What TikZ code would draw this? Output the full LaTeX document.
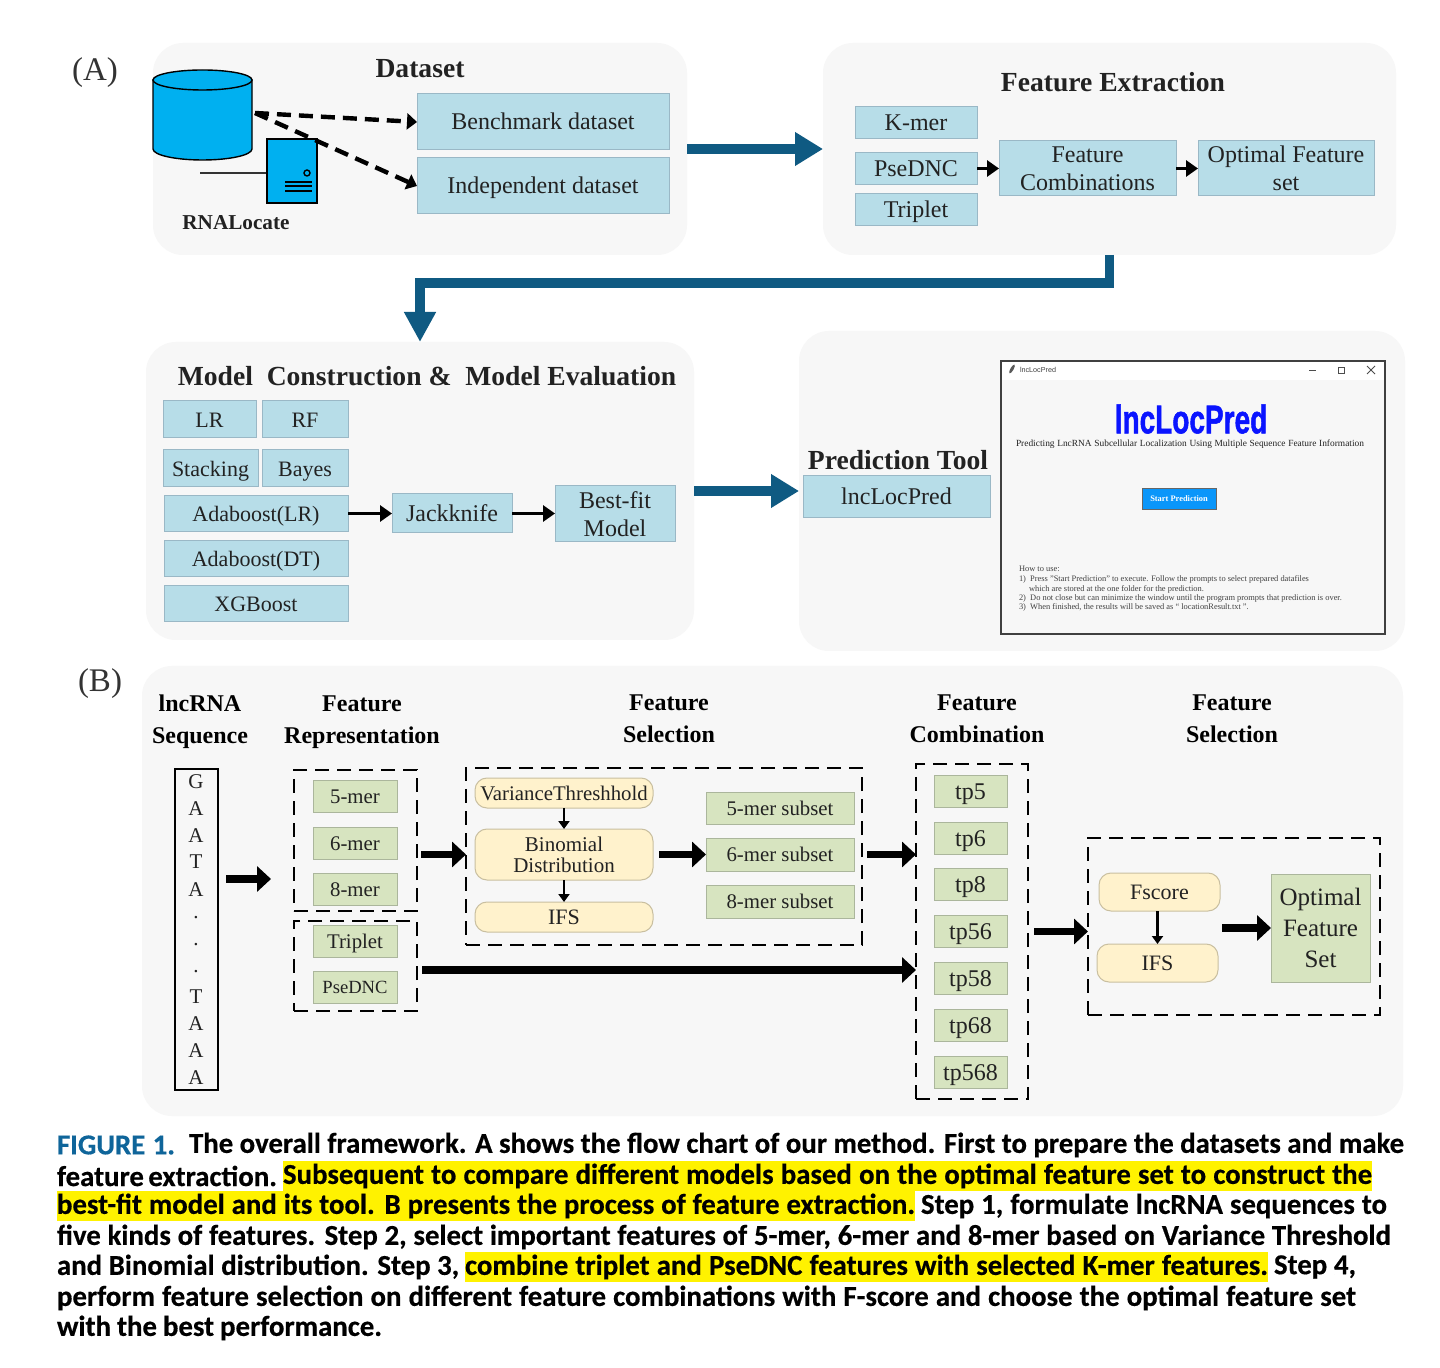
\documentclass[tikz,border=0pt]{standalone}
\usepackage{fontspec}
\usepackage{graphicx}
\setmainfont{Liberation Serif}
\newfontfamily\capfont[BoldFeatures={FakeBold=0.5}]{Carlito}
\newfontfamily\uisans{Liberation Sans}
\newfontfamily\heavyui[BoldFeatures={FakeBold=1.5}]{Liberation Sans}
\usetikzlibrary{arrows.meta,calc}
\definecolor{panelc}{HTML}{F7F7F7}
\definecolor{bluebox}{HTML}{B7DDE8}
\definecolor{blueedge}{HTML}{9AB8C6}
\definecolor{greenbox}{HTML}{D7E4C0}
\definecolor{greenedge}{HTML}{ABB69C}
\definecolor{creambox}{HTML}{FFF2CC}
\definecolor{creamedge}{HTML}{C9BFA0}
\definecolor{dbblue}{HTML}{00B0F0}
\definecolor{arrowblue}{HTML}{0F5A82}
\definecolor{capblue}{HTML}{0F659A}
\definecolor{txt}{HTML}{222222}
\definecolor{btnblue}{HTML}{0A96FA}
\newcommand{\fsz}[1]{\fontsize{#1}{#1}\selectfont}
\tikzset{
  x=0.5pt,y=-0.5pt,
  all/.style={inner sep=0pt,outer sep=0pt,align=center,text=txt},
  panel/.style={all,fill=panelc,rounded corners=15pt},
  oneline/.style={text height=#1,text depth=0pt},
  manyline/.style={text height=,text depth=},
  bluenode/.style={all,draw=blueedge,fill=bluebox,line width=0.5pt,font=\fsz{12},oneline=8pt},
  bluesmall/.style={bluenode,font=\fsz{11}},
  greennode/.style={all,draw=greenedge,fill=greenbox,line width=0.5pt,font=\fsz{10.4},oneline=7pt},
  tpnode/.style={greennode,font=\fsz{12},oneline=8pt},
  creamnode/.style={all,draw=creamedge,fill=creambox,line width=0.5pt,rounded corners=6pt,font=\fsz{10.5},oneline=7pt},
  dashgroup/.style={all,draw=black,line width=1pt,dash pattern=on 7pt off 4pt},
  seqbox/.style={all,draw=black,line width=1.1pt},
  winbox/.style={all,draw=black!75,line width=0.9pt,fill=panelc},
  title/.style={all,font=\fsz{13.8}\bfseries},
  head/.style={all,font=\fsz{12}\bfseries,text=black},
  bigblue/.style={draw=arrowblue,line width=5pt,-{Triangle[length=14pt,width=16pt,fill=arrowblue]}},
  bigk/.style={draw=black,line width=3.8pt,-{Triangle[length=7pt,width=12.5pt]}},
  midk/.style={draw=black,line width=1.8pt,-{Triangle[length=6pt,width=8pt]}},
  smallk/.style={draw=black,line width=1.1pt,-{Triangle[length=4pt,width=5.5pt]}},
  dashk/.style={draw=black,line width=2.2pt,dash pattern=on 7pt off 4pt,-{Triangle[length=5pt,width=8pt]}},
  capt/.style={inner sep=0pt,outer sep=0pt,anchor=west,text=black,font=\capfont\bfseries\fsz{14.4}},
  hlbar/.style={inner sep=0pt,outer sep=0pt,fill=yellow},
  uitext/.style={inner sep=0pt,outer sep=0pt,anchor=west,text=black!75},
}
% \bx[style]{name}{x0}{y0}{x1}{y1}{text}
\newcommand{\bx}[7][all]{\node[#1,minimum width={(#5-#3)*0.5pt},minimum height={(#6-#4)*0.5pt}] (#2) at ({(#3+#5)/2},{(#4+#6)/2}) {#7};}
% \capseg{name}{x0}{x1}{y}{text}
\newcommand{\capseg}[5]{\node[capt] (#1) at (#2,#4+1) {\makebox[\dimexpr #3pt/2-#2pt/2\relax][s]{#5}};}
\newcommand{\caphl}[5]{\node[hlbar,minimum width={(#3-#2)*0.5pt},minimum height=15.2pt] (#1bar) at ({(#2+#3)/2},#4+1) {};\capseg{#1}{#2}{#3}{#4}{#5}}
\begin{document}
\begin{tikzpicture}
\useasboundingbox (0,0) rectangle (1440,1368);
\fill[white] (0,0) rectangle (1440,1368);
% panels
\bx[panel]{pds}{153}{43}{687}{255}{}
\bx[panel]{pfe}{823}{43}{1396}{255}{}
\bx[panel]{pmo}{146}{342}{694}{640}{}
\bx[panel]{ppr}{799}{331}{1405}{651}{}
\bx[panel]{pb}{142}{666}{1403}{1116}{}
\node[all,font=\fsz{16.5},text=black!80] (lA) at (95,73) {(A)};
\node[all,font=\fsz{16.5},text=black!80] (lB) at (100,684) {(B)};
% dataset
\node[title] (tds) at (420,69) {Dataset};
\draw[black!80,line width=0.7pt] (200,173) -- (267,173);
\draw[black,line width=0.7pt,fill=dbblue] (153,80) -- (153,149) arc[start angle=180,end angle=0,x radius=49.5,y radius=11] -- (252,80) -- cycle;
\draw[black,line width=0.7pt,fill=dbblue] (202.5,80) ellipse[x radius=49.5,y radius=10];
\bx[seqbox,fill=dbblue,line width=0.8pt]{srv}{267}{139}{317}{203}{}
\draw[black,line width=0.7pt] (307,173) circle[radius=3];
\foreach \yy in {182,186,191}{\draw[black,line width=1pt] (285,\yy) -- (312,\yy);}
\node[all,font=\fsz{10.6}\bfseries] (rl) at (236,223) {RNALocate};
\bx[bluenode]{bench}{417}{94}{669}{150}{Benchmark dataset}
\bx[bluenode]{indep}{417}{158}{669}{214}{Independent dataset}
\coordinate (dbout) at (255,113);
\draw[dashk] (dbout) -- (bench.west);
\draw[dashk] (dbout) -- (indep.west);
% feature extraction
\node[title] (tfe) at (1113,82) {Feature Extraction};
\bx[bluenode]{kmer}{855}{107}{977}{139}{K-mer}
\bx[bluenode]{psed}{855}{153}{977}{185}{PseDNC}
\bx[bluenode]{trip}{855}{194}{977}{226}{Triplet}
\bx[bluenode,manyline]{fcomb}{999}{141}{1176}{196}{Feature\\[2pt]Combinations}
\bx[bluenode,manyline]{optf}{1198}{141}{1374}{196}{Optimal Feature\\[2pt]set}
\draw[midk] (psed.east |- fcomb.west) -- (fcomb.west);
\draw[midk] (fcomb.east) -- (optf.west);
% model
\node[title] (tmo) at (427,376) {Model\ \ Construction \&\ \ Model Evaluation};
\bx[bluesmall]{lr}{163}{401}{256}{438}{LR}
\bx[bluesmall]{rf}{262}{401}{348}{438}{RF}
\bx[bluesmall]{stack}{163}{450}{258}{487}{Stacking}
\bx[bluesmall]{bayes}{262}{450}{348}{487}{Bayes}
\bx[bluesmall]{adalr}{164}{496}{348}{532}{Adaboost(LR)}
\bx[bluesmall]{adadt}{164}{541}{348}{577}{Adaboost(DT)}
\bx[bluesmall]{xgb}{164}{586}{348}{622}{XGBoost}
\bx[bluenode]{jack}{392}{494}{512}{533}{Jackknife}
\bx[bluenode,manyline]{bestfit}{555}{486}{675}{542}{Best-fit\\[2pt]Model}
\draw[midk] (adalr.east |- jack.east) -- (jack.west);
\draw[midk] (jack.east) -- (bestfit.west |- jack.east);
% prediction tool
\node[title] (tpr) at (898,460) {Prediction Tool};
\bx[bluenode]{lnc}{803}{476}{990}{518}{lncLocPred}
\bx[winbox]{win}{1001}{361}{1385}{634}{}
\fill[white] (1002,362) rectangle (1384,380);
\fill[black!65,rotate around={60:(1012,369)}] (1012,369) ellipse[x radius=5,y radius=1.6];
\node[uitext,font=\uisans\fsz{3.6}] (wt) at (1020,370) {lncLocPred};
\draw[black!70,line width=0.4pt] (1309,370) -- (1316,370);
\draw[black!70,line width=0.4pt] (1338,367) rectangle (1344,373);
\draw[black!70,line width=0.4pt] (1367,366) -- (1375,374) (1375,366) -- (1367,374);
\node[all,font=\heavyui\bfseries\fsz{20},text={rgb,255:red,10;green,20;blue,255}] (wbig) at (1191,419) {\scalebox{0.7}[1]{lncLocPred}};
\node[all,font=\fsz{4.7}] (wsub) at (1190,444) {\makebox[174pt][s]{Predicting LncRNA Subcellular Localization Using Multiple Sequence Feature Information}};
\bx[all,fill=btnblue,draw=black!60,line width=0.4pt,text=white,font=\fsz{4.2}\bfseries]{btn}{1142}{488}{1216}{509}{Start Prediction}
\node[uitext,font=\fsz{4.2}] (h0) at (1019,569) {How to use:};
\node[uitext,font=\fsz{4.2}] (h1) at (1019,579) {1)\ \ Press "Start Prediction" to execute. Follow the prompts to select prepared datafiles};
\node[uitext,font=\fsz{4.2}] (h2) at (1029,589) {which are stored at the one folder for the prediction.};
\node[uitext,font=\fsz{4.2}] (h3) at (1019,598) {2)\ \ Do not close but can minimize the window until the program prompts that prediction is over.};
\node[uitext,font=\fsz{4.2}] (h4) at (1019,607) {3)\ \ When finished, the results will be saved as `` locationResult.txt ".};
% blue arrows
\draw[bigblue] (pds.east) -- (pfe.west);
\draw[bigblue] (pmo.east) -- (ppr.west);
\draw[draw=arrowblue,line width=4.6pt,-{Triangle[length=15pt,width=15pt]}] (pfe.south) -- ++(0,28) -| (pmo.north);
% panel B headers
\node[head] (h1a) at (200,722) {lncRNA\\[4pt]Sequence};
\node[head] (h2a) at (362,722) {Feature\\[4pt]Representation};
\node[head] (h3a) at (669,719) {Feature\\[4pt]Selection};
\node[head] (h4a) at (977,719) {Feature\\[4pt]Combination};
\node[head] (h5a) at (1232,719) {Feature\\[4pt]Selection};
% sequence
\bx[seqbox]{seq}{175}{769}{218}{1090}{}
\foreach \ch/\yy/\nm in {G/782/a,A/809/b,A/836/c,T/862/d,A/890/e,./918/f,./945/g,./972/h,T/997/i,A/1024/j,A/1051/k,A/1078/l}{
  \node[all,font=\fsz{10.5}] (s\nm) at (196,\yy) {\ch};
}
% groups
\bx[dashgroup]{dasha}{294}{770}{417}{911}{}
\bx[dashgroup]{dashb}{294}{921}{417}{1011}{}
\bx[dashgroup]{dashc}{466}{768}{862}{945}{}
\bx[dashgroup]{dashd}{916}{764}{1028}{1099}{}
\bx[dashgroup]{dashe}{1088}{838}{1380}{1015}{}
\bx[greennode]{m5}{313}{780}{397}{812}{5-mer}
\bx[greennode]{m6}{313}{827}{397}{859}{6-mer}
\bx[greennode]{m8}{313}{873}{397}{905}{8-mer}
\bx[greennode,oneline=7.6pt]{tri}{313}{925}{397}{957}{Triplet}
\bx[greennode,font=\fsz{9.3},oneline=6.5pt]{pse}{313}{971}{397}{1003}{PseDNC}
\bx[creamnode,font=\fsz{10.4}]{vart}{475}{778}{653}{808}{VarianceThreshhold}
\bx[creamnode,manyline]{binom}{475}{829}{653}{880}{Binomial\\[0pt]Distribution}
\bx[creamnode,font=\fsz{11}]{ifsa}{475}{902}{653}{932}{IFS}
\draw[smallk] (vart.south) -- (binom.north);
\draw[smallk] (binom.south) -- (ifsa.north);
\bx[greennode]{s5}{706}{792}{854}{824}{5-mer subset}
\bx[greennode]{s6}{706}{838}{854}{871}{6-mer subset}
\bx[greennode]{s8}{706}{885}{854}{918}{8-mer subset}
\bx[tpnode]{t5}{934}{775}{1007}{807}{tp5}
\bx[tpnode]{t6}{934}{822}{1007}{854}{tp6}
\bx[tpnode]{t8}{934}{868}{1007}{900}{tp8}
\bx[tpnode]{t56}{934}{915}{1007}{947}{tp56}
\bx[tpnode]{t58}{934}{962}{1007}{994}{tp58}
\bx[tpnode]{t68}{934}{1009}{1007}{1041}{tp68}
\bx[tpnode]{t568}{934}{1056}{1007}{1088}{tp568}
\bx[creamnode,font=\fsz{11}]{fsc}{1099}{873}{1220}{911}{Fscore}
\bx[creamnode,font=\fsz{11}]{ifsb}{1097}{944}{1218}{982}{IFS}
\bx[greennode,font=\fsz{12.5},manyline]{optb}{1271}{874}{1370}{982}{Optimal\\[3pt]Feature\\[3pt]Set}
\draw[smallk] (ifsb.north |- fsc.south) -- (ifsb.north);
\coordinate (seqy) at (0,879);
\coordinate (longy) at (0,970);
\draw[bigk,shorten <=4pt,shorten >=11.5pt] (seq.east |- seqy) -- (dasha.west |- seqy);
\draw[bigk,shorten <=2pt] (dasha.east |- binom) -- (dashc.west |- binom);
\draw[bigk,shorten <=3pt] (binom.east) -- (s6.west |- binom);
\draw[bigk,shorten <=2.5pt] (dashc.east |- s6) -- (dashd.west |- s6);
\draw[bigk,shorten <=2.5pt] (dashb.east |- longy) -- (dashd.west |- longy);
\draw[bigk,shorten <=3pt] (dashd.east) -- (dashe.west |- dashd.east);
\draw[bigk,shorten <=1pt] (fsc.east |- optb.west) -- (optb.west);
% caption
\capseg{c1a}{57}{175}{1144}{\textcolor{capblue}{FIGURE 1.}}
\capseg{c1b}{189}{1404}{1144}{The overall framework. A shows the flow chart of our method. First to prepare the datasets and make}
\capseg{c2a}{57}{277}{1175}{feature extraction.}
\caphl{c2b}{283}{1372}{1175}{Subsequent to compare different models based on the optimal feature set to construct the}
\caphl{c3a}{57}{915}{1205}{best-fit model and its tool. B presents the process of feature extraction.}
\capseg{c3b}{921}{1387}{1205}{Step 1, formulate lncRNA sequences to}
\capseg{c4}{57}{1391}{1236}{five kinds of features. Step 2, select important features of 5-mer, 6-mer and 8-mer based on Variance Threshold}
\capseg{c5a}{57}{459}{1266}{and Binomial distribution. Step 3,}
\caphl{c5b}{465}{1268}{1266}{combine triplet and PseDNC features with selected K-mer features.}
\capseg{c5c}{1274}{1356}{1266}{Step 4,}
\capseg{c6}{57}{1356}{1297}{perform feature selection on different feature combinations with F-score and choose the optimal feature set}
\capseg{c7}{57}{382}{1327}{with the best performance.}
\end{tikzpicture}
\end{document}
